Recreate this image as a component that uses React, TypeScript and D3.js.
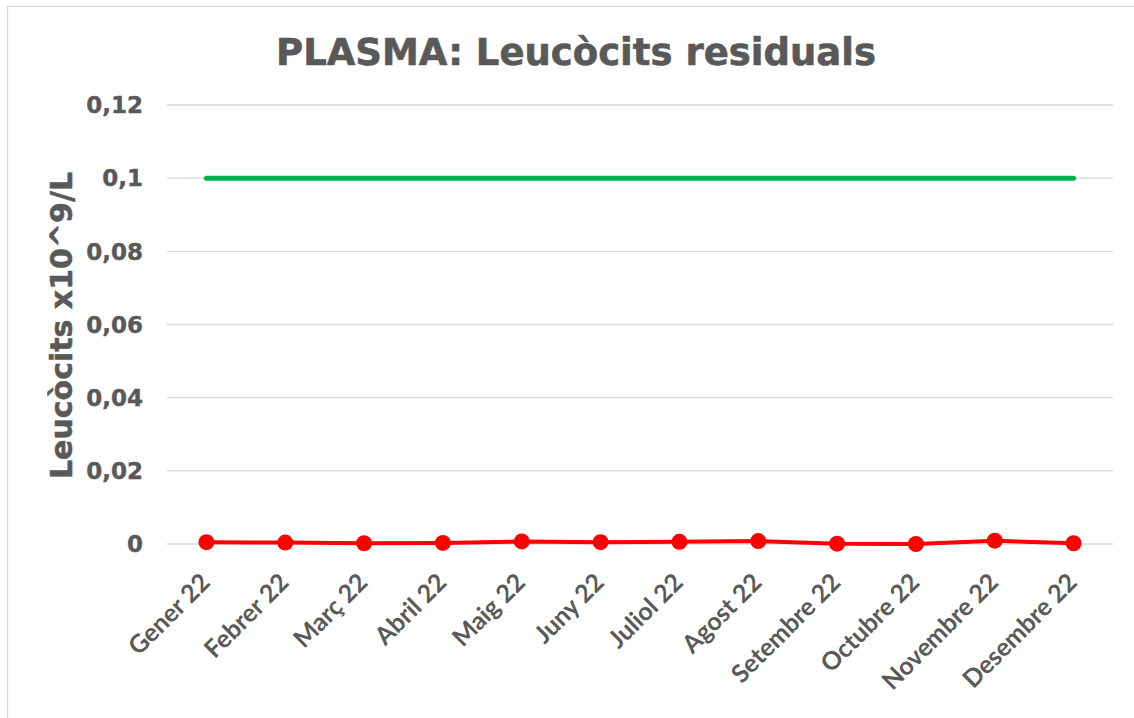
import * as d3 from "d3";
import { useEffect, useRef } from "react";

const months = [
  "Gener 22", "Febrer 22", "Març 22", "Abril 22", "Maig 22", "Juny 22",
  "Juliol 22", "Agost 22", "Setembre 22", "Octubre 22", "Novembre 22", "Desembre 22",
];
// leucòcits mesurats
const values = [0.0005, 0.0004, 0.0002, 0.0003, 0.0007, 0.0005, 0.0006, 0.0008, 0.0001, 0.0, 0.0009, 0.0002];
// límit
const limit = [0.1, 0.1, 0.1, 0.1, 0.1, 0.1, 0.1, 0.1, 0.1, 0.1, 0.1, 0.1];
const yTicks = [0, 0.02, 0.04, 0.06, 0.08, 0.1, 0.12];

const W = 1134;
const H = 718;
const margin = { top: 105, bottom: 174, left: 167, right: 21 };

const App = () => {
  const ref = useRef<SVGSVGElement>(null);

  useEffect(() => {
    const svg = d3.select(ref.current);
    svg.selectAll("*").remove();

    const x = d3.scaleBand().domain(months).range([margin.left, W - margin.right]);
    const y = d3.scaleLinear().domain([0, 0.12]).range([H - margin.bottom, margin.top]);
    const cx = (d: string) => (x(d) as number) + x.bandwidth() / 2;
    const fmt = (v: number) => d3.format("~g")(v).replace(".", ",");

    // fons i vora
    svg.append("rect").attr("width", W).attr("height", H).attr("fill", "#fff");
    svg.append("rect")
      .attr("x", 7.5).attr("y", 6.5).attr("width", W + 20).attr("height", H + 20)
      .attr("fill", "none").attr("stroke", "#d9d9d9").attr("stroke-width", 1.3);

    // línies de la graella
    svg.append("g")
      .selectAll("line")
      .data(yTicks)
      .join("line")
      .attr("x1", margin.left).attr("x2", W - margin.right)
      .attr("y1", d => y(d)).attr("y2", d => y(d))
      .attr("stroke", "#d9d9d9").attr("stroke-width", 1.3);

    // etiquetes eix Y
    svg.append("g")
      .selectAll("text")
      .data(yTicks)
      .join("text")
      .attr("x", 143).attr("y", d => y(d))
      .attr("dy", "0.36em")
      .attr("text-anchor", "end")
      .attr("font-family", "DejaVu Sans")
      .attr("font-weight", "bold")
      .attr("font-size", 23)
      .attr("fill", "#595959")
      .attr("stroke", "#595959").attr("stroke-width", 0.4)
      .text(d => fmt(d));

    // etiquetes eix X
    svg.append("g")
      .selectAll("text")
      .data(months)
      .join("text")
      .attr("transform", d => `translate(${cx(d) + 5},${y(0) + 40}) rotate(-45)`)
      .attr("text-anchor", "end")
      .attr("font-family", "Lato")
      .attr("font-weight", "bold")
      .attr("font-size", 25)
      .attr("fill", "#595959")
      .text(d => d);

    // títol
    svg.append("text")
      .attr("x", 576).attr("y", 65)
      .attr("text-anchor", "middle")
      .attr("font-family", "DejaVu Sans")
      .attr("font-weight", "bold")
      .attr("font-size", 37)
      .attr("fill", "#595959")
      .attr("stroke", "#595959").attr("stroke-width", 0.6)
      .text("PLASMA: Leucòcits residuals");

    // títol eix Y
    svg.append("text")
      .attr("transform", `translate(72,${(y(0) + y(0.12)) / 2 + 1}) rotate(-90)`)
      .attr("text-anchor", "middle")
      .attr("font-family", "DejaVu Sans")
      .attr("font-weight", "bold")
      .attr("font-size", 30)
      .attr("fill", "#595959")
      .attr("stroke", "#595959").attr("stroke-width", 0.5)
      .text("Leucòcits x10^9/L");

    const line = d3.line<number>()
      .x((_, i) => cx(months[i]))
      .y(d => y(d));

    // límit (verd)
    svg.append("path")
      .datum(limit)
      .attr("d", line)
      .attr("fill", "none")
      .attr("stroke", "#00b050")
      .attr("stroke-width", 5)
      .attr("stroke-linecap", "round");

    // valors (vermell)
    svg.append("path")
      .datum(values)
      .attr("d", line)
      .attr("fill", "none")
      .attr("stroke", "#ff0000")
      .attr("stroke-width", 4)
      .attr("stroke-linejoin", "round");

    svg.append("g")
      .selectAll("circle")
      .data(values)
      .join("circle")
      .attr("cx", (_, i) => cx(months[i]))
      .attr("cy", d => y(d))
      .attr("r", 8)
      .attr("fill", "#ff0000");
  }, []);

  return (
    <svg
      ref={ref}
      width={W}
      height={H}
      style={{ position: "absolute", left: 0, top: 0 }}
    />
  );
};

export default App;
